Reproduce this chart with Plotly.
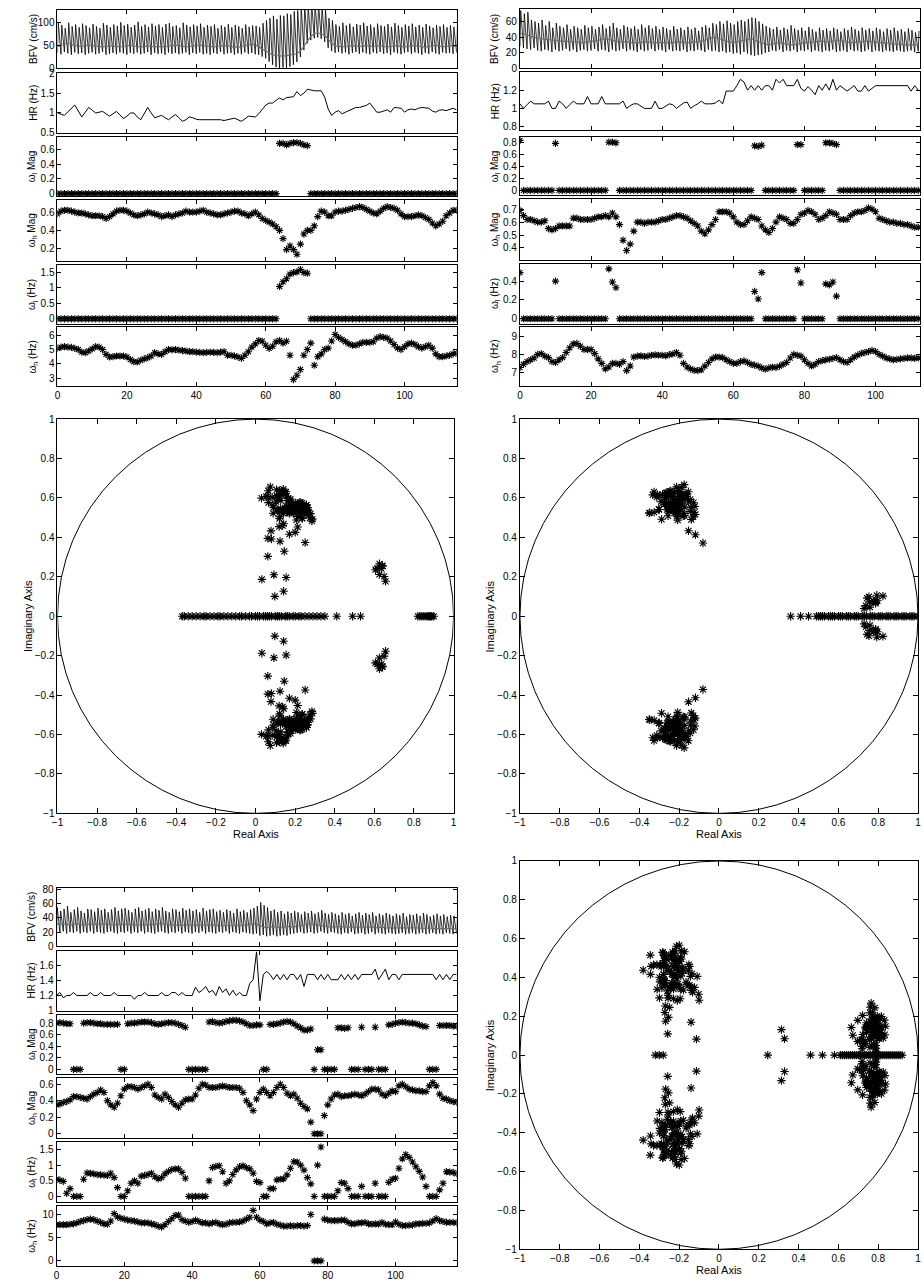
import numpy as np
import plotly.graph_objects as go

# ------------------------------------------------------------------ DATA
FS = 25.0  # sampling rate linking (mag, Hz) to pole angle

# ---- record A (top-left, middle-left pole map)
a_bfv_peak = [101,95,88,100,92,96,90,98,94,89, 97,92,88,99,95,90,96,93,101,94,
              97,90,95,102,92,96,91,98,93,96, 90,97,99,92,94,89,100,95,91,96,
              93,98,90,95,92,96,88,94,91,97, 90,95,92,88,96,91,94,93,90,99,
              105,110,115,108,116,115,120,118,125,127, 135,140,138,145,140,142,136,130,110,105,
              96,92,100,94,98,91,97,95,100,93, 96,90,98,94,92,97,91,99,94,90,
              96,93,98,91,95,90,97,93,89,95, 92,96,90,94,91,95]
a_bfv_trough = [34,31,36,33,30,35,32,34,30,33, 35,31,33,36,30,32,34,31,35,33,
                30,34,32,35,31,33,36,30,34,32, 33,30,35,32,34,31,33,35,30,34,
                32,35,31,33,30,34,32,36,31,33, 34,30,33,31,35,32,34,31,30,26,
                22,15,8,3,0,2,0,4,8,14, 25,40,55,62,66,68,65,58,45,38,
                34,36,33,35,31,34,36,32,35,33, 31,35,33,36,32,34,30,35,33,31,
                34,36,32,35,33,30,34,32,36,33, 31,35,33,34,32,35]
a_bfv_mean = [48,50,52,55,53,50,49,48,50,51, 50,49,48,47,48,50,49,48,47,48,
              50,51,49,48,47,48,49,48,47,48, 47,48,49,50,51,50,48,47,48,49,
              50,51,50,49,48,47,48,49,50,49, 48,47,46,48,50,52,53,51,48,42,
              38,34,30,28,27,27,28,29,30,32, 38,48,60,70,76,78,76,72,64,55,
              50,48,47,48,49,50,49,48,49,50, 49,48,49,50,48,47,48,50,49,48,
              47,48,49,50,49,47,46,48,50,51, 49,47,48,50,49,48]
a_hr = [1.0,0.97,0.94,1.03,1.12,1.2,1.05,0.9,1.02,1.14, 1.07,1.0,1.02,1.04,0.98,0.92,0.98,1.04,0.95,0.86,
        0.92,1.0,1.0,0.9,0.83,1.0,1.14,1.0,0.88,0.91, 0.94,0.88,0.83,0.9,0.96,0.88,0.79,0.83,0.9,0.88,
        0.84,0.83,0.83,0.83,0.83,0.83,0.83,0.83,0.81,0.83, 0.85,0.87,0.83,0.79,0.85,0.92,0.91,0.9,0.98,1.08,
        1.2,1.25,1.25,1.32,1.38,1.33,1.39,1.4,1.41,1.54, 1.44,1.5,1.6,1.58,1.56,1.56,1.56,1.4,1.1,0.94,
        1.02,1.06,0.98,1.02,1.06,1.12,1.14,1.14,1.16,1.19, 1.25,1.12,1.02,1.02,1.05,1.08,1.02,1.14,1.13,1.12,
        1.02,1.08,1.1,1.08,1.12,1.14,1.13,1.12,1.05,1.02, 1.07,1.08,1.06,1.09,1.12,1.08]
a_wl_mag = [0,0,0,0,0,0,0,0,0,0, 0,0,0,0,0,0,0,0,0,0,
            0,0,0,0,0,0,0,0,0,0, 0,0,0,0,0,0,0,0,0,0,
            0,0,0,0,0,0,0,0,0,0, 0,0,0,0,0,0,0,0,0,0,
            0,0,0,0,0.68,0.68,0.66,0.68,0.69,0.69, 0.68,0.66,0.65,0,0,0,0,0,0,0,
            0,0,0,0,0,0,0,0,0,0, 0,0,0,0,0,0,0,0,0,0,
            0,0,0,0,0,0,0,0,0,0, 0,0,0,0,0,0]
a_wh_mag = [0.58,0.61,0.62,0.62,0.61,0.60,0.59,0.59,0.58,0.57, 0.56,0.56,0.56,0.55,0.53,0.55,0.58,0.61,0.62,0.62,
            0.61,0.59,0.57,0.56,0.57,0.58,0.60,0.59,0.58,0.57, 0.55,0.56,0.57,0.55,0.57,0.58,0.59,0.61,0.60,0.60,
            0.60,0.61,0.62,0.60,0.59,0.58,0.57,0.57,0.58,0.59, 0.60,0.61,0.61,0.59,0.58,0.56,0.58,0.60,0.57,0.53,
            0.51,0.49,0.47,0.44,0.40,0.31,0.19,0.23,0.19,0.14, 0.25,0.36,0.40,0.40,0.45,0.55,0.61,0.60,0.56,0.56,
            0.60,0.61,0.61,0.62,0.63,0.64,0.65,0.66,0.65,0.63, 0.61,0.59,0.58,0.61,0.64,0.66,0.65,0.64,0.62,0.58,
            0.55,0.55,0.55,0.56,0.57,0.56,0.54,0.52,0.48,0.45, 0.47,0.50,0.56,0.59,0.62,0.62]
a_wl_hz = [0,0,0,0,0,0,0,0,0,0, 0,0,0,0,0,0,0,0,0,0,
           0,0,0,0,0,0,0,0,0,0, 0,0,0,0,0,0,0,0,0,0,
           0,0,0,0,0,0,0,0,0,0, 0,0,0,0,0,0,0,0,0,0,
           0,0,0,0,1.05,1.2,1.3,1.45,1.5,1.52, 1.6,1.5,1.48,0,0,0,0,0,0,0,
           0,0,0,0,0,0,0,0,0,0, 0,0,0,0,0,0,0,0,0,0,
           0,0,0,0,0,0,0,0,0,0, 0,0,0,0,0,0]
a_wh_hz = [5.08,5.17,5.2,5.17,5.15,5.08,5.0,4.82,4.78,4.9, 5.05,5.2,5.17,5.0,4.66,4.48,4.5,4.55,4.55,4.55,
           4.48,4.3,4.15,4.13,4.25,4.35,4.43,4.55,4.78,4.7, 4.66,4.85,5.0,4.98,5.0,4.95,4.93,4.9,4.85,4.85,
           4.82,4.8,4.78,4.8,4.82,4.8,4.78,4.82,4.85,4.6, 4.6,4.55,4.48,4.38,4.6,4.85,5.17,5.4,5.63,5.58,
           5.3,5.08,5.23,5.54,5.63,5.45,5.58,4.6,2.9,3.2, 3.6,4.6,5.0,5.45,3.9,4.5,4.7,5.0,5.1,5.6,
           6.05,5.85,5.7,5.55,5.4,5.3,5.3,5.4,5.5,5.5, 5.5,5.55,5.8,5.9,5.85,5.8,5.6,5.35,5.1,5.0,
           5.2,5.4,5.45,5.35,5.2,5.1,5.2,5.3,5.1,4.7, 4.5,4.5,4.55,4.6,4.7,4.75]
a_real_poles = [-0.37,-0.36,-0.34,-0.32,-0.3,-0.28,-0.26,-0.25,-0.23,-0.21,-0.19,-0.18,-0.16,-0.14,
                -0.12,-0.1,-0.08,-0.07,-0.05,-0.03,-0.02,0.0,0.01,0.02,0.04,0.05,0.06,0.07,0.08,0.1,
                0.11,0.12,0.13,0.15,0.16,0.17,0.19,0.2,0.22,0.23,0.25,0.27,0.29,0.31,0.33,0.35,0.41,
                0.49,0.53,0.82,0.83,0.84,0.85,0.86,0.87,0.875,0.88,0.885,0.89,0.9]

# ---- record B (top-right, middle-right pole map)
b_bfv_peak = [74,70,72,62,60,58,62,55,60,52, 58,54,52,56,50,54,52,50,55,52,
              54,50,53,56,51,54,58,52,50,55, 53,51,54,50,56,52,55,51,54,50,
              53,51,49,54,50,52,49,53,50,52, 48,53,55,52,58,56,60,57,61,58,
              56,60,62,60,63,65,64,60,57,54, 52,50,53,49,52,50,55,51,49,52,
              48,53,50,47,52,49,51,48,52,50, 47,51,49,53,50,48,52,49,51,48,
              52,50,47,51,49,52,48,50,47,51, 49,46,48]
b_bfv_trough = [28,26,25,24,26,23,22,24,23,21, 24,22,23,25,22,24,21,23,24,22,
                23,25,22,24,23,21,24,22,23,25, 22,24,23,21,24,22,23,25,22,24,
                23,21,24,22,23,22,24,21,23,22, 24,23,21,24,22,23,21,22,20,21,
                19,20,18,21,19,17,16,17,18,20, 21,23,22,24,21,23,22,24,21,23,
                22,24,21,23,22,21,23,22,24,21, 22,23,21,24,22,23,21,22,24,21,
                23,22,21,23,22,21,23,22,21,22, 23,21,22]
b_bfv_mean = [45,44,43,41,40,39,38,37,37,36, 36,35,35,35,34,34,34,33,33,34,
              35,35,36,37,38,37,36,35,34,34, 34,33,33,33,33,34,34,33,33,33,
              33,33,33,33,34,34,33,33,33,34, 34,35,36,38,39,40,38,36,35,34,
              33,34,35,36,37,38,36,34,32,31, 30,31,32,33,32,31,30,30,31,32,
              33,33,34,34,35,35,34,34,35,36, 36,35,34,33,33,34,34,35,35,34,
              34,33,33,32,32,31,31,31,30,30, 30,30,30]
b_hr = [1.05,1.0,1.04,1.08,1.05,1.05,1.05,1.05,1.08,1.0, 1.0,1.08,1.05,1.0,1.04,1.08,1.05,1.05,1.05,1.13,
        1.05,1.05,1.05,1.13,1.05,1.05,1.05,1.05,1.05,1.08, 1.0,1.03,1.05,1.05,1.02,1.0,1.0,1.0,1.08,1.0,
        1.0,1.03,1.05,1.04,1.0,1.03,1.06,1.07,1.0,1.03, 1.05,1.08,1.05,1.05,1.05,1.06,1.09,1.05,1.19,1.19,
        1.19,1.25,1.32,1.29,1.2,1.25,1.2,1.25,1.2,1.25, 1.25,1.2,1.32,1.28,1.32,1.25,1.25,1.25,1.32,1.22,
        1.19,1.24,1.2,1.15,1.25,1.2,1.27,1.2,1.32,1.2, 1.25,1.22,1.19,1.22,1.25,1.19,1.19,1.25,1.19,1.22,
        1.25,1.25,1.25,1.25,1.25,1.25,1.25,1.25,1.25,1.25, 1.19,1.25,1.2]
b_wl_mag = [0.83,0,0,0,0,0,0,0,0,0, 0.78,0,0,0,0,0,0,0,0,0,
            0,0,0,0,0,0.80,0.80,0.79,0,0, 0,0,0,0,0,0,0,0,0,0,
            0,0,0,0,0,0,0,0,0,0, 0,0,0,0,0,0,0,0,0,0,
            0,0,0,0,0,0,0.74,0.73,0.75,0, 0,0,0,0,0,0,0,0,0.76,0.76,
            0,0,0,0,0,0,0.79,0.79,0.78,0.76, 0,0,0,0,0,0,0,0,0,0,
            0,0,0,0,0,0,0,0,0,0, 0,0,0]
b_wh_mag = [0.69,0.65,0.62,0.62,0.61,0.60,0.60,0.61,0.55,0.54, 0.55,0.57,0.57,0.57,0.57,0.63,0.63,0.62,0.62,0.62,
            0.62,0.63,0.64,0.64,0.65,0.64,0.67,0.64,0.58,0.46, 0.38,0.43,0.53,0.60,0.60,0.59,0.60,0.60,0.60,0.61,
            0.62,0.62,0.63,0.64,0.65,0.65,0.64,0.63,0.61,0.59, 0.57,0.53,0.51,0.54,0.58,0.62,0.68,0.68,0.68,0.67,
            0.64,0.60,0.58,0.58,0.61,0.64,0.63,0.62,0.57,0.54, 0.52,0.55,0.60,0.64,0.63,0.62,0.59,0.59,0.62,0.66,
            0.67,0.69,0.68,0.66,0.62,0.63,0.65,0.68,0.67,0.66, 0.62,0.62,0.62,0.65,0.67,0.68,0.68,0.69,0.71,0.70,
            0.68,0.63,0.62,0.61,0.60,0.60,0.59,0.59,0.58,0.58, 0.57,0.56,0.56]
b_wl_hz = [0.49,0,0,0,0,0,0,0,0,0, 0.40,0,0,0,0,0,0,0,0,0,
           0,0,0,0,0,0.53,0.39,0.33,0,0, 0,0,0,0,0,0,0,0,0,0,
           0,0,0,0,0,0,0,0,0,0, 0,0,0,0,0,0,0,0,0,0,
           0,0,0,0,0,0,0.29,0.21,0.49,0, 0,0,0,0,0,0,0,0,0.52,0.38,
           0,0,0,0,0,0,0.37,0.36,0.39,0.24, 0,0,0,0,0,0,0,0,0,0,
           0,0,0,0,0,0,0,0,0,0, 0,0,0]
b_wh_hz = [7.27,7.45,7.6,7.7,7.8,8.0,8.04,7.9,7.82,7.6, 7.55,7.7,7.82,8.1,8.36,8.58,8.6,8.45,8.27,8.27,
           8.27,8.04,7.75,7.5,7.2,7.3,7.5,7.5,7.45,7.6, 7.1,7.36,7.85,7.9,7.92,7.88,7.9,7.95,7.97,7.95,
           7.95,7.92,7.98,8.02,8.1,7.95,7.5,7.3,7.2,7.12, 7.1,7.15,7.35,7.55,7.75,7.85,7.85,7.82,7.7,7.6,
           7.5,7.5,7.6,7.64,7.55,7.45,7.4,7.35,7.25,7.18, 7.25,7.3,7.27,7.35,7.45,7.55,7.8,8.0,7.95,7.9,
           7.7,7.5,7.36,7.45,7.6,7.65,7.7,7.73,7.78,7.82, 7.7,7.6,7.55,7.7,7.85,7.96,8.05,8.1,8.15,8.22,
           8.15,8.0,7.9,7.8,7.75,7.7,7.72,7.75,7.78,7.8, 7.8,7.78,7.8]
b_real_poles = [0.36,0.41,0.45,0.49,0.5,0.51,0.52,0.53,0.55,0.56,0.57,0.58,0.6,0.61,0.62,0.64,0.65,
                0.66,0.68,0.69,0.7,0.72,0.73,0.74,0.76,0.77,0.78,0.8,0.81,0.82,0.84,0.85,0.86,0.88,
                0.89,0.9,0.92,0.93,0.94,0.96,0.97,0.98,1.0]

# ---- record C (bottom-left, bottom-right pole map)
c_bfv_peak = [55,50,53,57,48,52,55,50,47,53, 52,49,54,51,53,48,52,55,50,53,
              54,51,48,53,55,50,52,54,49,53, 51,55,50,48,53,52,49,54,51,53,
              50,52,48,54,50,52,53,49,51,48, 52,50,47,53,49,51,48,52,54,57,
              62,58,55,50,52,48,50,46,49,47, 50,48,45,49,47,50,46,48,51,47,
              45,48,46,44,48,45,47,43,46,48, 44,47,45,48,43,46,44,47,45,43,
              46,44,47,42,45,44,46,43,47,45, 42,44,46,43,45,42,44,43,41]
c_bfv_trough = [20,19,21,18,20,19,21,18,20,19, 21,18,20,19,18,20,21,19,18,20,
                19,21,18,20,19,21,18,20,19,18, 20,21,19,18,20,19,21,18,20,19,
                18,20,19,21,18,20,19,18,20,19, 21,18,20,19,18,20,19,18,17,18,
                15,16,14,15,16,14,15,16,15,17, 18,19,20,18,19,20,18,19,21,19,
                18,20,19,18,17,19,18,20,17,18, 19,17,18,20,17,19,18,17,19,18,
                17,18,19,17,18,19,17,18,19,17, 18,19,17,18,17,19,18,17,18]
c_bfv_mean = [31,32,32,31,30,31,32,31,30,31, 31,30,30,31,32,31,30,30,31,31,
              32,32,31,30,30,31,31,30,30,31, 32,32,31,31,30,30,31,31,30,30,
              30,31,31,30,30,31,31,30,30,29, 29,30,30,29,29,30,30,31,32,31,
              29,27,26,27,28,27,26,27,28,27, 27,28,29,30,31,32,31,30,29,28,
              28,27,27,28,28,27,27,28,27,27, 28,28,27,27,26,27,27,26,26,27,
              27,26,26,26,27,27,26,26,25,26, 26,25,25,26,26,25,25,25,25]
c_hr = [1.2,1.24,1.17,1.2,1.2,1.24,1.2,1.2,1.2,1.2, 1.24,1.2,1.2,1.24,1.2,1.2,1.2,1.24,1.2,1.2,
        1.2,1.2,1.2,1.15,1.2,1.2,1.24,1.2,1.2,1.2, 1.2,1.24,1.2,1.2,1.24,1.24,1.2,1.24,1.2,1.2,
        1.2,1.31,1.24,1.27,1.32,1.24,1.27,1.2,1.32,1.24, 1.29,1.2,1.27,1.2,1.24,1.2,1.2,1.36,1.41,1.78,
        1.13,1.48,1.52,1.48,1.41,1.48,1.41,1.48,1.41,1.48, 1.48,1.41,1.48,1.32,1.48,1.48,1.48,1.41,1.48,1.41,
        1.48,1.41,1.41,1.41,1.48,1.41,1.48,1.41,1.48,1.41, 1.48,1.48,1.48,1.48,1.55,1.41,1.48,1.55,1.41,1.48,
        1.48,1.41,1.48,1.48,1.48,1.48,1.48,1.48,1.48,1.48, 1.48,1.48,1.41,1.48,1.41,1.48,1.41,1.48,1.48]
c_wl_mag = [0.8,0.81,0.8,0.79,0.79,0,0,0,0.8,0.81, 0.81,0.8,0.79,0.79,0.78,0.78,0.78,0.78,0.78,0,
            0,0.79,0.8,0.8,0.81,0.82,0.82,0.82,0.81,0.79, 0.78,0.79,0.8,0.81,0.81,0.8,0.78,0.76,0.73,0,
            0,0,0,0,0,0.82,0.83,0.81,0.8,0.81, 0.83,0.84,0.85,0.85,0.84,0.82,0.79,0.76,0.76,0.77,
            0.77,0,0,0.78,0.78,0.79,0.8,0.82,0.83,0.82, 0.79,0.75,0.72,0.68,0.68,0.7,0,0.34,0.34,0,
            0,0,0,0.72,0.72,0.71,0.72,0,0,0, 0.73,0,0,0,0.73,0,0,0,0.77,0.78,
            0.8,0.81,0.82,0.81,0.8,0.8,0.79,0.77,0.75,0.74, 0,0,0,0.76,0.76,0.76,0.76,0.75,0.75]
c_wh_mag = [0.35,0.36,0.38,0.39,0.41,0.45,0.45,0.44,0.43,0.42, 0.45,0.48,0.5,0.53,0.5,0.4,0.35,0.32,0.37,0.46,
            0.54,0.57,0.57,0.56,0.54,0.56,0.58,0.6,0.56,0.47, 0.44,0.42,0.48,0.44,0.39,0.35,0.32,0.37,0.41,0.42,
            0.42,0.47,0.55,0.6,0.59,0.56,0.56,0.56,0.57,0.58, 0.57,0.56,0.56,0.56,0.55,0.5,0.4,0.35,0.28,0.42,
            0.5,0.54,0.5,0.46,0.5,0.56,0.6,0.56,0.49,0.46, 0.48,0.43,0.37,0.33,0.3,0.14,0,0,0,0.22,
            0.35,0.42,0.47,0.48,0.45,0.46,0.46,0.47,0.48,0.47, 0.46,0.48,0.51,0.54,0.54,0.53,0.48,0.46,0.49,0.52,
            0.51,0.58,0.6,0.57,0.54,0.53,0.52,0.52,0.51,0.51, 0.58,0.62,0.58,0.48,0.43,0.42,0.4,0.39,0.38]
c_wl_hz = [0.55,0.52,0.48,0.1,0.25,0,0,0,0.55,0.75, 0.74,0.72,0.7,0.69,0.68,0.67,0.74,0.6,0.28,0,
           0,0.18,0.42,0.5,0.42,0.65,0.67,0.7,0.74,0.63, 0.56,0.6,0.72,0.8,0.86,0.88,0.88,0.77,0.58,0,
           0,0,0,0,0,0.5,0.92,0.96,0.98,0.79, 0.42,0.5,0.7,0.85,0.95,0.98,0.92,0.88,0.74,0.48,
           0.44,0,0,0.25,0.25,0.53,0.55,0.56,0.69,0.9, 1.11,1.1,1.0,0.84,0.6,0.4,0,1.0,1.58,0,
           0,0,0,0.18,0.44,0.42,0.25,0,0,0, 0.32,0,0,0,0.42,0,0,0,0.45,0.55,
           0.58,0.9,1.2,1.34,1.25,1.1,0.95,0.8,0.62,0.32, 0,0,0,0.21,0.42,0.79,0.78,0.77,0.72]
c_wh_hz = [7.8,7.8,7.8,7.8,7.9,8.0,8.2,8.5,8.7,8.9, 9.0,8.9,8.6,8.3,8.0,7.9,8.6,10.2,9.5,9.2,
           9.0,8.8,8.7,8.6,8.4,8.2,8.2,8.2,8.0,7.8, 7.5,7.3,7.8,8.5,9.1,9.8,9.9,8.9,8.6,8.3,
           8.5,8.8,8.5,8.2,8.2,8.0,8.2,8.3,8.0,7.8, 7.9,8.2,8.3,8.3,8.4,8.6,9.0,9.4,10.9,9.4,
           8.8,8.5,8.0,8.2,8.3,7.9,7.7,7.5,7.5,7.6, 7.5,7.6,7.6,7.5,7.6,10.0,0,0,0,9.0,
           8.8,8.7,8.7,8.7,8.8,8.8,8.3,8.0,8.0,8.2, 8.2,8.3,8.0,7.9,8.0,7.9,8.3,7.9,7.8,7.8,
           8.4,7.9,7.6,7.6,7.7,7.7,8.0,8.0,8.1,8.1, 8.2,8.6,9.1,8.7,8.5,8.3,8.3,8.3,8.2]
c_real_poles = [-0.32,-0.3,-0.28,0.245,0.46,0.52,0.58,0.61,0.62,0.63,0.64,0.65,0.66,0.67,0.68,
                0.69,0.7,0.71,0.72,0.73,0.74,0.75,0.76,0.77,0.78,0.79,0.8,0.81,0.82,0.83,0.84,
                0.85,0.86,0.87,0.88,0.89,0.9,0.91,0.92]

# tick labels
a_yticks = [[0, 50, 100], [0.5, 1, 1.5, 2], [0, 0.2, 0.4, 0.6], [0.2, 0.4, 0.6], [0, 0.5, 1, 1.5], [3, 4, 5, 6]]
b_yticks = [[0, 20, 40, 60], [0.8, 1, 1.2], [0, 0.2, 0.4, 0.6, 0.8], [0.4, 0.5, 0.6, 0.7], [0, 0.2, 0.4], [7, 8, 9]]
c_yticks = [[0, 20, 40, 60, 80], [1, 1.2, 1.4, 1.6], [0, 0.2, 0.4, 0.6, 0.8], [0, 0.2, 0.4, 0.6], [0, 0.5, 1, 1.5], [0, 5, 10]]
time_ticks = [0, 20, 40, 60, 80, 100]
pz_ticks = [-1, -0.8, -0.6, -0.4, -0.2, 0, 0.2, 0.4, 0.6, 0.8, 1]
panel_labels = ["BFV (cm/s)", "HR (Hz)", "ω<sub>l</sub> Mag", "ω<sub>h</sub> Mag",
                "ω<sub>l</sub> (Hz)", "ω<sub>h</sub> (Hz)"]

# ------------------------------------------------------------------ LAYOUT
W, H = 924, 1288
FONT = "Liberation Sans, Arial, Helvetica, sans-serif"

fig = go.Figure()
layout = dict(width=W, height=H, margin=dict(l=0, r=0, t=0, b=0),
              paper_bgcolor="white", plot_bgcolor="white", showlegend=False,
              font=dict(family=FONT, size=10, color="black"))
annotations = []
shapes = []
count = [0]


def axis_style(**kw):
    d = dict(showline=True, linecolor="black", linewidth=1, mirror="ticks",
             ticks="inside", ticklen=4, tickcolor="black", tickwidth=1,
             showgrid=False, zeroline=False, tickfont=dict(size=10, family=FONT),
             fixedrange=True)
    d.update(kw)
    return d


def add_axes(xpx, ypx, xrange, yrange, xticks, yticks, show_xlabels, ticklen=4):
    count[0] += 1
    n = count[0]
    sfx = "" if n == 1 else str(n)
    layout["xaxis" + sfx] = axis_style(domain=[xpx[0] / W, xpx[1] / W], range=xrange,
                                       tickvals=xticks, showticklabels=show_xlabels,
                                       anchor="y" + sfx, ticklen=ticklen)
    layout["yaxis" + sfx] = axis_style(domain=[1 - ypx[1] / H, 1 - ypx[0] / H], range=yrange,
                                       tickvals=yticks, anchor="x" + sfx, ticklen=ticklen)
    return "x" + sfx, "y" + sfx


def star_trace(x, y, xa, ya, size=6):
    return go.Scatter(x=x, y=y, xaxis=xa, yaxis=ya, mode="markers", hoverinfo="skip",
                      marker=dict(symbol="asterisk-open", size=size, color="black",
                                  line=dict(color="black", width=1.1)))


def add_group(xpx, ytops, xmax, yranges, yticks, bfv_peak, bfv_trough, bfv_mean, hr,
              wl_mag, wh_mag, wl_hz, wh_hz):
    axes = []
    for i, (top, bot) in enumerate(ytops):
        axes.append(add_axes(xpx, (top, bot), [0, xmax], yranges[i], time_ticks,
                             yticks[i], i == 5))
        annotations.append(dict(text=panel_labels[i], xref="paper", yref="paper",
                                x=(xpx[0] - 25) / W, y=1 - (top + bot) / 2 / H,
                                textangle=-90, showarrow=False, xanchor="center",
                                yanchor="middle", font=dict(size=10, family=FONT)))
    # BFV pulsatile waveform: trough -> systolic peak for each beat
    n = min(len(bfv_peak), len(bfv_trough))
    bx, by = [], []
    for k in range(n):
        bx += [k, k + 0.22]
        by += [bfv_trough[k], bfv_peak[k]]
    xa, ya = axes[0]
    fig.add_trace(go.Scatter(x=bx, y=by, xaxis=xa, yaxis=ya, mode="lines",
                             line=dict(color="black", width=0.8), hoverinfo="skip"))
    fig.add_trace(go.Scatter(x=list(range(len(bfv_mean))), y=bfv_mean, xaxis=xa, yaxis=ya,
                             mode="lines", line=dict(color="#6e6e6e", width=1.2), hoverinfo="skip"))
    xa, ya = axes[1]
    fig.add_trace(go.Scatter(x=list(range(len(hr))), y=hr, xaxis=xa, yaxis=ya, mode="lines",
                             line=dict(color="black", width=1), hoverinfo="skip"))
    for j, series in zip([2, 3, 4, 5], [wl_mag, wh_mag, wl_hz, wh_hz]):
        xa, ya = axes[j]
        fig.add_trace(star_trace(list(range(len(series))), series, xa, ya, size=6))


def add_polemap(xpx, ypx, mags_hz, real_poles):
    xa, ya = add_axes(xpx, ypx, [-1, 1], [-1, 1], pz_ticks, pz_ticks, True, ticklen=5)
    shapes.append(dict(type="circle", xref=xa, yref=ya, x0=-1, y0=-1, x1=1, y1=1,
                       line=dict(color="black", width=1), layer="below"))
    re_all, im_all = [], []
    for mag, hz in mags_hz:
        m = np.asarray(mag, float)
        f = np.asarray(hz, float)
        k = min(len(m), len(f))
        m, f = m[:k], f[:k]
        keep = m > 0
        ang = 2 * np.pi * f[keep] / FS
        re = m[keep] * np.cos(ang)
        im = m[keep] * np.sin(ang)
        re_all += list(re) + list(re)
        im_all += list(im) + list(-im)
    re_all += list(real_poles)
    im_all += [0.0] * len(real_poles)
    fig.add_trace(star_trace(re_all, im_all, xa, ya, size=7))
    cx = (xpx[0] + xpx[1]) / 2
    annotations.append(dict(text="Real Axis", xref="paper", yref="paper", x=cx / W,
                            y=1 - (ypx[1] + 21) / H, showarrow=False, xanchor="center",
                            yanchor="middle", font=dict(size=11, family=FONT)))
    annotations.append(dict(text="Imaginary Axis", xref="paper", yref="paper",
                            x=(xpx[0] - 30) / W, y=1 - (ypx[0] + ypx[1]) / 2 / H,
                            textangle=-90, showarrow=False, xanchor="center",
                            yanchor="middle", font=dict(size=11, family=FONT)))


add_group((52, 455), [(4, 63), (68, 128), (132, 192), (196, 257), (261, 321), (324, 384)], 115,
          [[0, 128], [0.5, 2], [-0.035, 0.77], [0.07, 0.73], [-0.17, 1.76], [2.42, 6.58]],
          a_yticks, a_bfv_peak, a_bfv_trough, a_bfv_mean, a_hr, a_wl_mag, a_wh_mag, a_wl_hz, a_wh_hz)
add_group((519, 923), [(3, 63), (67, 125), (132, 191), (195, 256), (260, 321), (324, 384)], 112.5,
          [[0, 76], [0.764, 1.396], [-0.08, 0.89], [0.31, 0.777], [-0.056, 0.586], [6.23, 9.51]],
          b_yticks, b_bfv_peak, b_bfv_trough, b_bfv_mean, b_hr, b_wl_mag, b_wh_mag, b_wl_hz, b_wh_hz)
add_group((51, 455), [(890, 949), (954, 1014), (1018, 1078), (1082, 1143), (1147, 1207), (1211, 1272)], 118,
          [[0, 83], [1.0, 1.79], [-0.08, 0.95], [-0.056, 0.676], [-0.17, 1.73], [-1.14, 11.9]],
          c_yticks, c_bfv_peak, c_bfv_trough, c_bfv_mean, c_hr, c_wl_mag, c_wh_mag, c_wl_hz, c_wh_hz)

add_polemap((52, 452), (417, 815), [(a_wh_mag, a_wh_hz), (a_wl_mag, a_wl_hz)], a_real_poles)
add_polemap((519, 921), (417, 815), [(b_wh_mag, b_wh_hz), (b_wl_mag, b_wl_hz)], b_real_poles)
add_polemap((519, 921), (863, 1255), [(c_wh_mag, c_wh_hz), (c_wl_mag, c_wl_hz)], c_real_poles)

layout["annotations"] = annotations
layout["shapes"] = shapes
fig.update_layout(**layout)
fig.write_html("out.html", config={"displayModeBar": False, "staticPlot": True},
               post_script="document.body.style.margin='0px';document.body.style.overflow='hidden';")
